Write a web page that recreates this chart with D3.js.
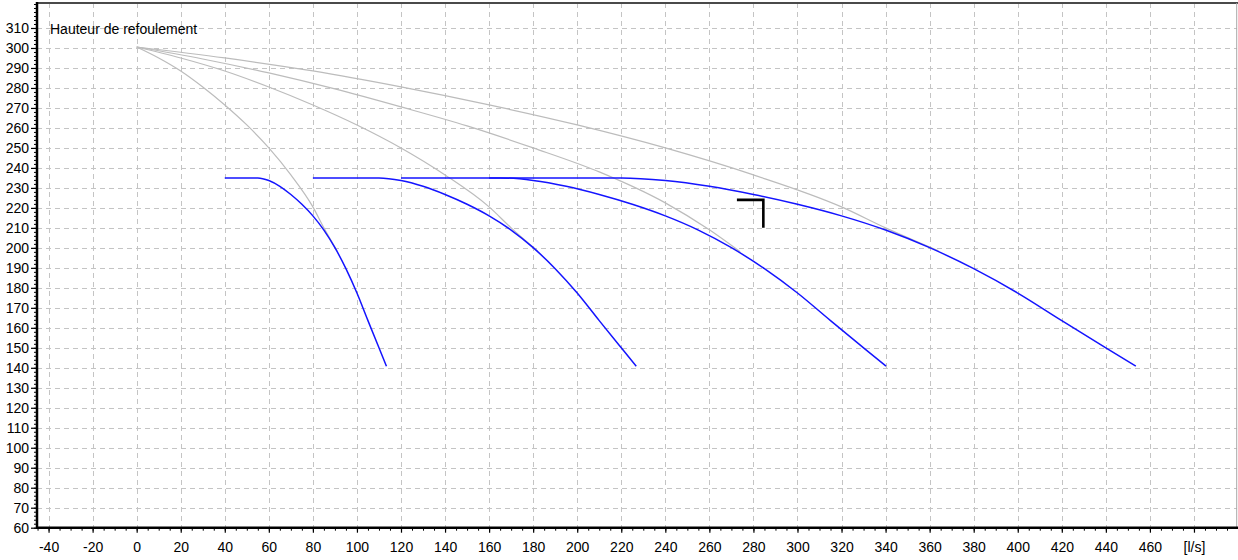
<!DOCTYPE html>
<html>
<head>
<meta charset="utf-8">
<script src="https://cdn.jsdelivr.net/npm/d3@7"></script>
<style>
  html, body { margin: 0; padding: 0; background: #fff; }
  svg { display: block; }
  text { font-family: "Liberation Sans", Arial, sans-serif; }
</style>
</head>
<body>
<svg id="chart" width="1238" height="560"></svg>
<script>
// Axis ticks and labels
const xTickValues = [-40, -20, 0, 20, 40, 60, 80, 100, 120, 140, 160, 180, 200, 220, 240, 260, 280, 300, 320, 340, 360, 380, 400, 420, 440, 460, 480];
const xTickLabels = ["-40", "-20", "0", "20", "40", "60", "80", "100", "120", "140", "160", "180", "200", "220", "240", "260", "280", "300", "320", "340", "360", "380", "400", "420", "440", "460", "[l/s]"];
const yTickValues = [60, 70, 80, 90, 100, 110, 120, 130, 140, 150, 160, 170, 180, 190, 200, 210, 220, 230, 240, 250, 260, 270, 280, 290, 300, 310];
const yAxisTitle = "Hauteur de refoulement";

// Pump curves at full speed (Q [l/s], H) for 1 to 4 pumps in parallel
const grayCurve1 = [[0, 300.5], [10, 295], [20, 288.5], [30, 280.5], [40, 271.5], [50, 261.5], [60, 250], [70, 236.5], [80, 220.5], [85, 210], [91, 198.5]];
const grayCurve2 = [[0, 300.5], [20, 295], [40, 288.5], [60, 280.5], [80, 271.5], [100, 261.5], [120, 250], [140, 236.5], [160, 220.5], [170, 210], [182, 198.5]];
const grayCurve3 = [[0, 300.5], [30, 294.5], [60, 287.5], [90, 279.5], [120, 270.5], [150, 261], [180, 250], [210, 238], [240, 222.5], [260, 209], [274, 198]];
const grayCurve4 = [[0, 300.5], [40, 295], [80, 288.5], [120, 280.5], [160, 271.5], [200, 261.5], [240, 250], [280, 236.5], [320, 220.5], [340, 210], [364, 198.5]];

// Regulated curves (constant head 235) for 1 to 4 pumps
const blueCurve1 = [[40, 235], [55, 235], [60, 233.7], [65, 230.8], [70, 226.7], [75, 221.8], [80, 216.0], [85, 208.9], [90, 200.1], [95, 189.6], [100, 177.4], [105, 163.6], [110, 150.0], [113.4, 140.8]];
const blueCurve2 = [[80, 235], [110, 235], [120, 233.7], [130, 230.8], [140, 226.7], [150, 221.8], [160, 216.0], [170, 208.9], [180, 200.1], [190, 189.6], [200, 177.4], [210, 163.6], [220, 150.0], [226.8, 140.8]];
const blueCurve3 = [[120, 235], [165, 235], [180, 233.7], [195, 230.8], [210, 226.7], [225, 221.8], [240, 216.0], [255, 208.9], [270, 200.1], [285, 189.6], [300, 177.4], [315, 163.6], [330, 150.0], [340.2, 140.8]];
const blueCurve4 = [[160, 235], [220, 235], [240, 233.7], [260, 230.8], [280, 226.7], [300, 221.8], [320, 216.0], [340, 208.9], [360, 200.1], [380, 189.6], [400, 177.4], [420, 163.6], [440, 150.0], [453.6, 140.8]];

// Duty point marker
const dutyMarker = [[272.5, 224], [284.5, 224], [284.5, 210]];

const grayCurves = [grayCurve1, grayCurve2, grayCurve3, grayCurve4];
const blueCurves = [blueCurve1, blueCurve2, blueCurve3, blueCurve4];

const svg = d3.select("#chart");
const plotLeft = 37, plotRight = 1236.7, plotTop = 3, plotBottom = 527.7;

const x = d3.scaleLinear().domain([-45.25, 499.4]).range([plotLeft, plotRight]);
const y = d3.scaleLinear().domain([60, 322.5]).range([plotBottom, plotTop]);

// Dashed grid
const grid = svg.append("g").attr("stroke", "#c4c4c4").attr("stroke-width", 1)
  .attr("stroke-dasharray", "5,4").attr("shape-rendering", "crispEdges");
grid.selectAll("line.v").data(xTickValues).join("line").attr("class", "v")
  .attr("x1", d => Math.round(x(d)) + 0.5).attr("x2", d => Math.round(x(d)) + 0.5)
  .attr("y1", plotTop).attr("y2", plotBottom);
grid.selectAll("line.h").data(yTickValues.filter(v => v > 60)).join("line").attr("class", "h")
  .attr("y1", d => Math.round(y(d)) + 0.5).attr("y2", d => Math.round(y(d)) + 0.5)
  .attr("x1", plotLeft).attr("x2", plotRight);

// Frame
svg.append("line").attr("x1", plotLeft).attr("x2", 1238).attr("y1", plotTop).attr("y2", plotTop)
  .attr("stroke", "#4a4a4a").attr("stroke-width", 2);
svg.append("line").attr("x1", plotRight).attr("x2", plotRight).attr("y1", plotTop).attr("y2", plotBottom)
  .attr("stroke", "#a8a8a8").attr("stroke-width", 1);

const line = d3.line().x(d => x(d[0])).y(d => y(d[1])).curve(d3.curveMonotoneX);

// Curves
svg.append("g").selectAll("path").data(grayCurves).join("path")
  .attr("d", line).attr("fill", "none").attr("stroke", "#bcbcbc").attr("stroke-width", 1.2);
svg.append("g").selectAll("path").data(blueCurves).join("path")
  .attr("d", line).attr("fill", "none").attr("stroke", "#1414ff").attr("stroke-width", 1.5);

// Marker
svg.append("path").attr("d", d3.line().x(d => x(d[0])).y(d => y(d[1]))(dutyMarker))
  .attr("fill", "none").attr("stroke", "#000").attr("stroke-width", 2.6);

// Minor ticks
const xMinor = d3.range(-45, 500, 5);
const yMinor = d3.range(60, 323, 2);
svg.append("g").attr("transform", `translate(0,${plotBottom})`)
  .call(d3.axisBottom(x).tickValues(xMinor).tickSize(3).tickFormat(""))
  .call(g => g.select(".domain").remove())
  .selectAll("line").attr("stroke", "#000");
svg.append("g").attr("transform", `translate(${plotLeft},0)`)
  .call(d3.axisLeft(y).tickValues(yMinor).tickSize(3).tickFormat(""))
  .call(g => g.select(".domain").remove())
  .selectAll("line").attr("stroke", "#000");

// Major axes
const xAxis = svg.append("g").attr("transform", `translate(0,${plotBottom})`)
  .call(d3.axisBottom(x).tickValues(xTickValues).tickSize(5).tickPadding(9)
    .tickFormat((d, i) => xTickLabels[i]));
xAxis.select(".domain").attr("d", `M${plotLeft},0H${1238}`).attr("stroke", "#000").attr("stroke-width", 2.5);
xAxis.selectAll("text").attr("font-size", 14).attr("fill", "#000").attr("font-family", "Liberation Sans, Arial, sans-serif");
xAxis.selectAll("line").attr("stroke-width", 1.2);

const yAxis = svg.append("g").attr("transform", `translate(${plotLeft},0)`)
  .call(d3.axisLeft(y).tickValues(yTickValues).tickSize(6).tickPadding(2).tickFormat(d3.format("d")));
yAxis.select(".domain").attr("d", `M0,${plotTop - 1}V${plotBottom + 1}`).attr("stroke", "#000").attr("stroke-width", 2.5);
yAxis.selectAll("text").attr("font-size", 14).attr("fill", "#000").attr("font-family", "Liberation Sans, Arial, sans-serif");
yAxis.selectAll("line").attr("stroke-width", 1.2);

// Axis title
svg.append("text").attr("x", 50).attr("y", 34).attr("font-size", 14).attr("fill", "#000")
  .text(yAxisTitle);
</script>
</body>
</html>
